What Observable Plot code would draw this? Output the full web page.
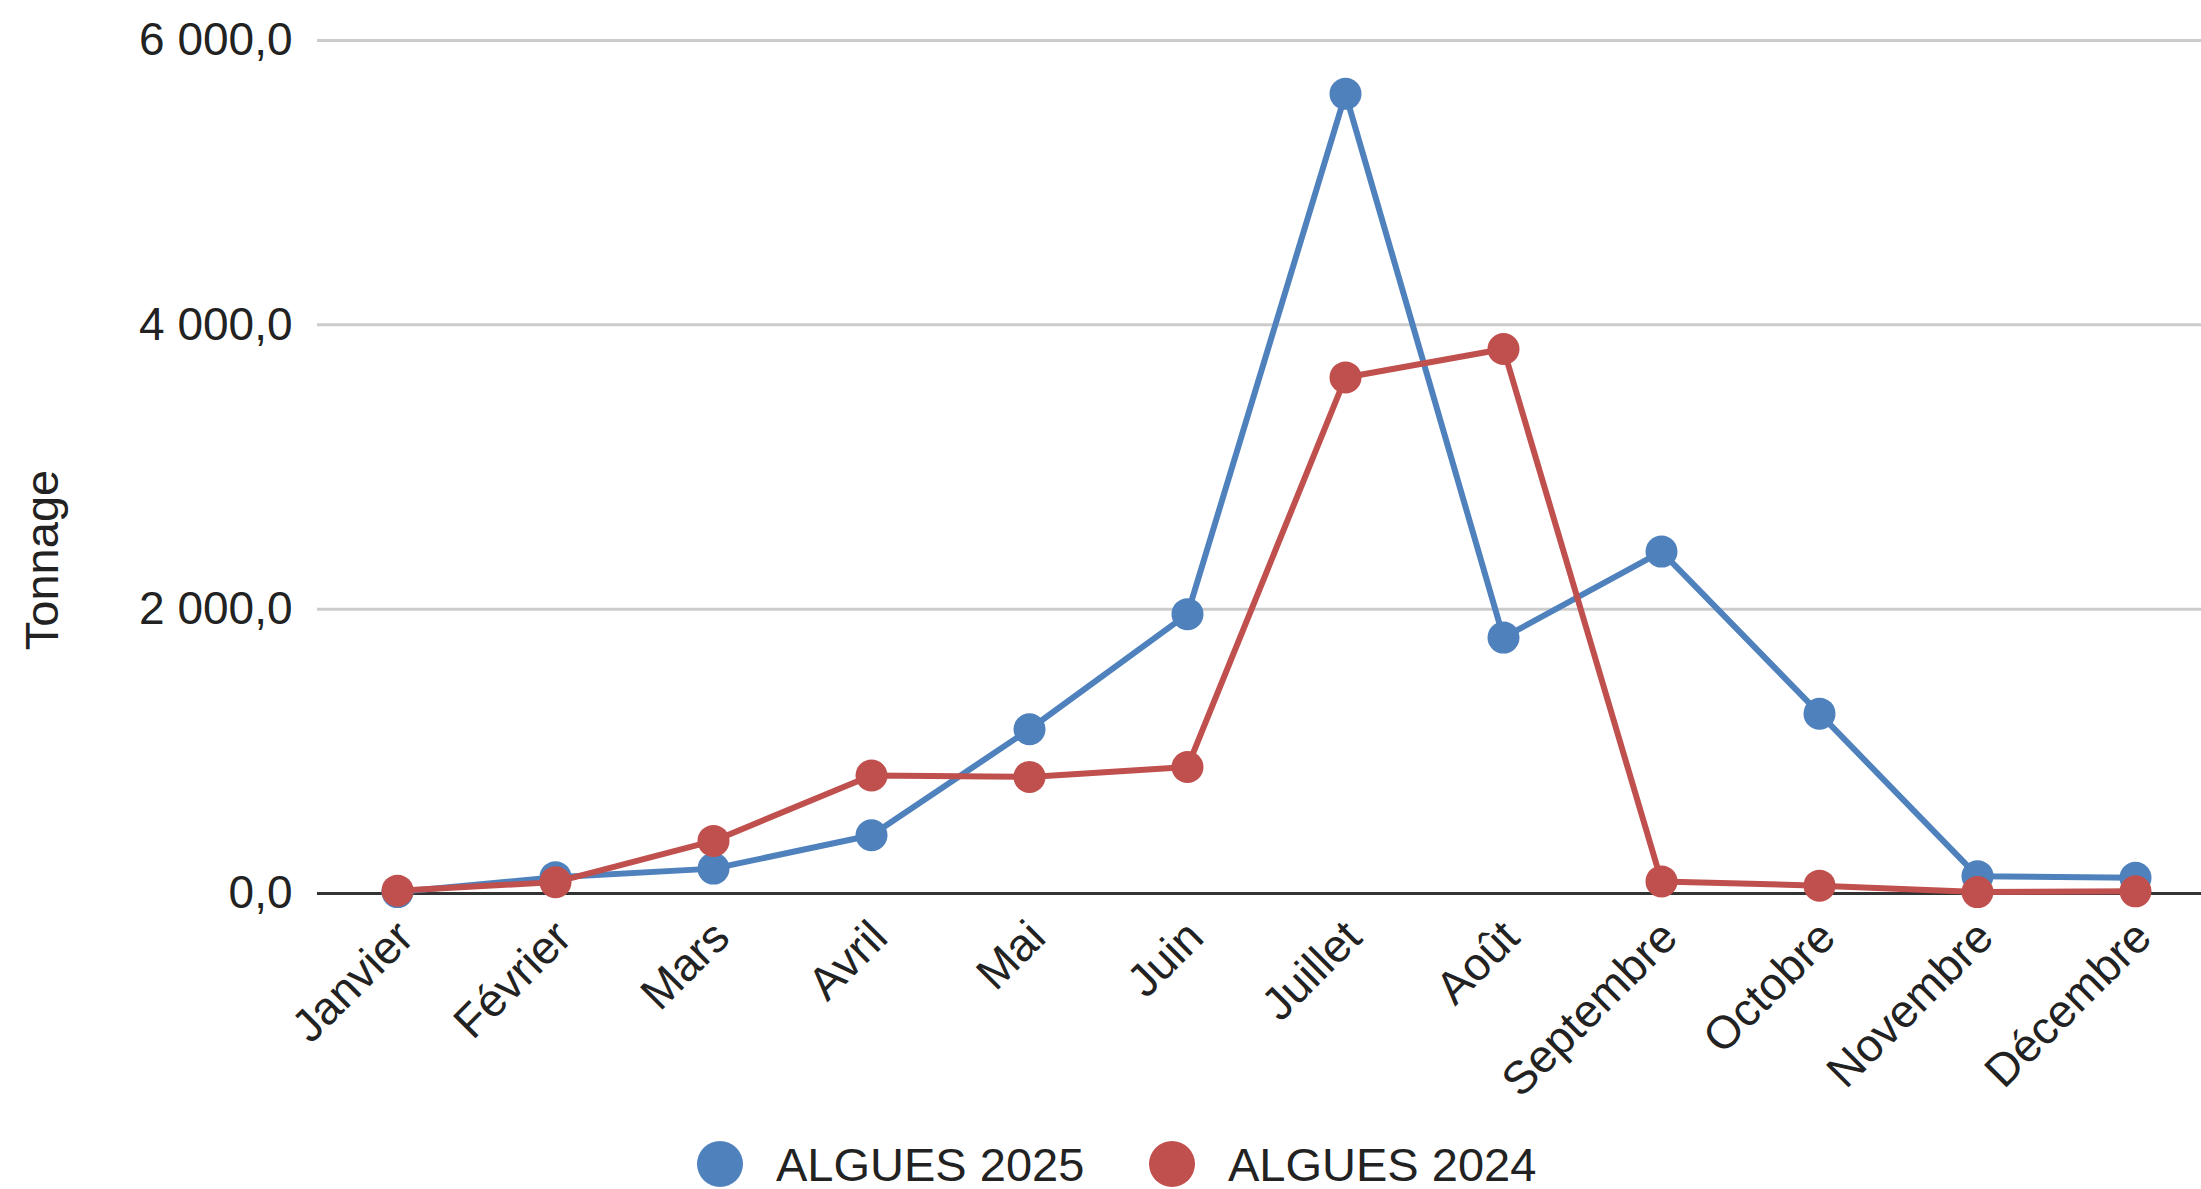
<!DOCTYPE html>
<html>
<head>
<meta charset="utf-8">
<script src="https://cdn.jsdelivr.net/npm/d3@7"></script>
<script src="https://cdn.jsdelivr.net/npm/@observablehq/plot@0.6"></script>
<style>
  html, body { margin: 0; padding: 0; background: #fff; }
  body { width: 2201px; height: 1189px; overflow: hidden; font-family: "Liberation Sans", Arial, sans-serif; }
  #legend { position: relative; height: 59px; font-size: 47px; line-height: 1; color: #222; }
  .item { position: absolute; top: 0; display: flex; align-items: center; height: 68px; white-space: nowrap; }
  .sw { width: 46px; height: 46px; border-radius: 50%; margin-right: 33px; }
</style>
</head>
<body>
<div id="chart"></div>
<div id="legend"></div>
<script>
const months = ["Janvier","Février","Mars","Avril","Mai","Juin","Juillet","Août","Septembre","Octobre","Novembre","Décembre"];
const algues2025 = [10, 115, 175, 410, 1155, 1965, 5625, 1800, 2405, 1265, 122, 110];
const algues2024 = [20, 80, 370, 830, 820, 890, 3630, 3830, 85, 55, 10, 15];
const seriesNames = ["ALGUES 2025", "ALGUES 2024"];
const seriesColors = ["#4F81BD", "#C0504D"];
const yTicks = [0, 2000, 4000, 6000];
const yTitle = "Tonnage";

const frFormat = d3.formatLocale({decimal: ",", thousands: " ", grouping: [3], currency: ["", " €"]}).format(",.1f");

const rows = [];
[algues2025, algues2024].forEach((vals, s) => {
  vals.forEach((v, i) => rows.push({month: months[i], value: v, series: seriesNames[s]}));
});
const bySeries = name => rows.filter(d => d.series === name);

const chart = Plot.plot({
  width: 2201,
  height: 1130,
  marginLeft: 317,
  marginRight: -14,
  marginTop: 40,
  marginBottom: 237,
  style: {fontFamily: "Liberation Sans, Arial, sans-serif", color: "#222", background: "#fff"},
  x: {type: "point", domain: months, padding: 0.5},
  y: {domain: [0, 6000]},
  color: {domain: seriesNames, range: seriesColors},
  marks: [
    Plot.ruleY(yTicks.filter(t => t > 0), {stroke: "#cccccc", strokeWidth: 3}),
    Plot.ruleY([0], {stroke: "#333333", strokeWidth: 3}),
    Plot.axisY({ticks: yTicks, tickSize: 0, tickPadding: 25, fontSize: 46, tickFormat: frFormat, label: null}),
    Plot.text([yTitle], {frameAnchor: "left", textAnchor: "middle", rotate: -90, dx: -275, dy: 93, fontSize: 47, fill: "#222"}),
    Plot.axisX({tickSize: 0, tickRotate: -45, tickPadding: 22, dx: 8, dy: 14, fontSize: 46, label: null}),
    ...seriesNames.flatMap(name => [
      Plot.line(bySeries(name), {x: "month", y: "value", stroke: "series", strokeWidth: 6}),
      Plot.dot(bySeries(name), {x: "month", y: "value", fill: "series", r: 16})
    ])
  ]
});
document.getElementById("chart").appendChild(chart);

const legend = document.getElementById("legend");
const legendX = [697, 1149];
seriesNames.forEach((name, i) => {
  const it = document.createElement("div");
  it.className = "item";
  it.style.left = legendX[i] + "px";
  const sw = document.createElement("div");
  sw.className = "sw";
  sw.style.background = seriesColors[i];
  const tx = document.createElement("span");
  tx.textContent = name;
  it.appendChild(sw); it.appendChild(tx);
  legend.appendChild(it);
});
</script>
</body>
</html>
